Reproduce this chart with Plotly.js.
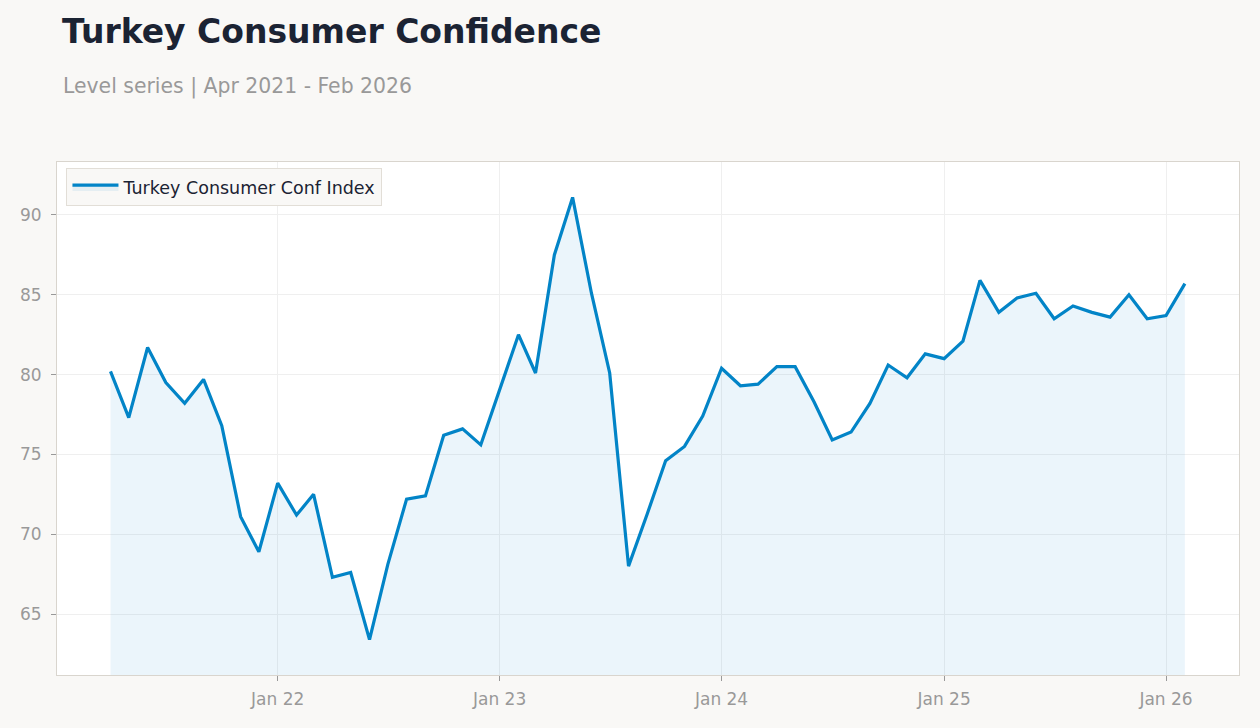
<!DOCTYPE html>
<html>
<head>
<meta charset="utf-8">
<script src="https://cdn.plot.ly/plotly-3.0.1.min.js"></script>
<style>
html,body{margin:0;padding:0;background:#F9F8F6;}
#chart{width:1260px;height:728px;}
</style>
</head>
<body>
<div id="chart"></div>
<script>
const months = [
"2021-04-01","2021-05-01","2021-06-01","2021-07-01","2021-08-01","2021-09-01","2021-10-01","2021-11-01","2021-12-01",
"2022-01-01","2022-02-01","2022-03-01","2022-04-01","2022-05-01","2022-06-01","2022-07-01","2022-08-01","2022-09-01","2022-10-01","2022-11-01","2022-12-01",
"2023-01-01","2023-02-01","2023-03-01","2023-04-01","2023-05-01","2023-06-01","2023-07-01","2023-08-01","2023-09-01","2023-10-01","2023-11-01","2023-12-01",
"2024-01-01","2024-02-01","2024-03-01","2024-04-01","2024-05-01","2024-06-01","2024-07-01","2024-08-01","2024-09-01","2024-10-01","2024-11-01","2024-12-01",
"2025-01-01","2025-02-01","2025-03-01","2025-04-01","2025-05-01","2025-06-01","2025-07-01","2025-08-01","2025-09-01","2025-10-01","2025-11-01","2025-12-01",
"2026-01-01","2026-02-01"
];
const confidence = [
80.2,77.3,81.7,79.5,78.2,79.7,76.8,71.1,68.9,
73.2,71.2,72.5,67.3,67.6,63.4,68.1,72.2,72.4,76.2,76.6,75.6,
79.1,82.5,80.1,87.5,91.1,85.1,80.1,68.0,71.3,74.6,75.5,77.4,
80.4,79.3,79.4,80.5,80.5,78.3,75.9,76.4,78.2,80.6,79.8,81.3,
81.0,82.1,85.9,83.9,84.8,85.1,83.5,84.3,83.9,83.6,85.0,83.5,
83.7,85.7
];
const seriesName = "Turkey Consumer Conf Index";
const titleText = "Turkey Consumer Confidence";
const subtitleText = "Level series | Apr 2021 - Feb 2026";

const FONT = "DejaVu Sans, sans-serif";

const trace = {
  x: months, y: confidence, type: "scatter", mode: "lines", name: seriesName,
  line: {color: "#0284c7", width: 3.2},
  fill: "tozeroy", fillcolor: "rgba(2,132,199,0.08)"
};

const layout = {
  width: 1260, height: 728,
  paper_bgcolor: "#F9F8F6", plot_bgcolor: "#FFFFFF",
  margin: {l: 57, r: 21, t: 162, b: 53},
  font: {family: FONT, color: "#999999", size: 17},
  title: {
    text: "<b>" + titleText + "</b>",
    font: {family: FONT, size: 33, color: "#1B2333"},
    xref: "container", yref: "container", x: 62/1260, xanchor: "left",
    y: 1 - 31/728, yanchor: "middle"
  },
  annotations: [{
    text: subtitleText, xref: "paper", yref: "paper",
    x: (61-57)/1182, xanchor: "left", y: (675-86)/513, yanchor: "middle",
    showarrow: false, font: {family: FONT, size: 20.4, color: "#999999"}
  }],
  showlegend: true,
  legend: {
    x: 0.008, y: 0.988, xanchor: "left", yanchor: "top",
    bgcolor: "#F9F8F6", bordercolor: "#E2DED7", borderwidth: 1,
    itemwidth: 46,
    font: {family: FONT, size: 17.5, color: "#1B2333"}
  },
  xaxis: {
    type: "date",
    range: ["2021-01-03", "2026-05-01"],
    tick0: "2022-01-01", dtick: "M12", tickformat: "%b %y",
    showgrid: true, gridcolor: "#EFEFEF", gridwidth: 1,
    showline: true, linecolor: "#D9D5CE", linewidth: 1, mirror: true,
    ticks: "outside", ticklen: 5, tickcolor: "#999999",
    ticklabelstandoff: 4,
    tickfont: {family: FONT, size: 17, color: "#999999"},
    zeroline: false
  },
  yaxis: {
    range: [61.18, 93.32],
    tick0: 65, dtick: 5,
    showgrid: true, gridcolor: "#EFEFEF", gridwidth: 1,
    showline: true, linecolor: "#D9D5CE", linewidth: 1, mirror: true,
    ticks: "outside", ticklen: 5, tickcolor: "#999999",
    ticklabelstandoff: 6,
    tickfont: {family: FONT, size: 17, color: "#999999"},
    zeroline: false
  }
};

Plotly.newPlot("chart", [trace], layout, {displayModeBar: false, responsive: false});
</script>
</body>
</html>
